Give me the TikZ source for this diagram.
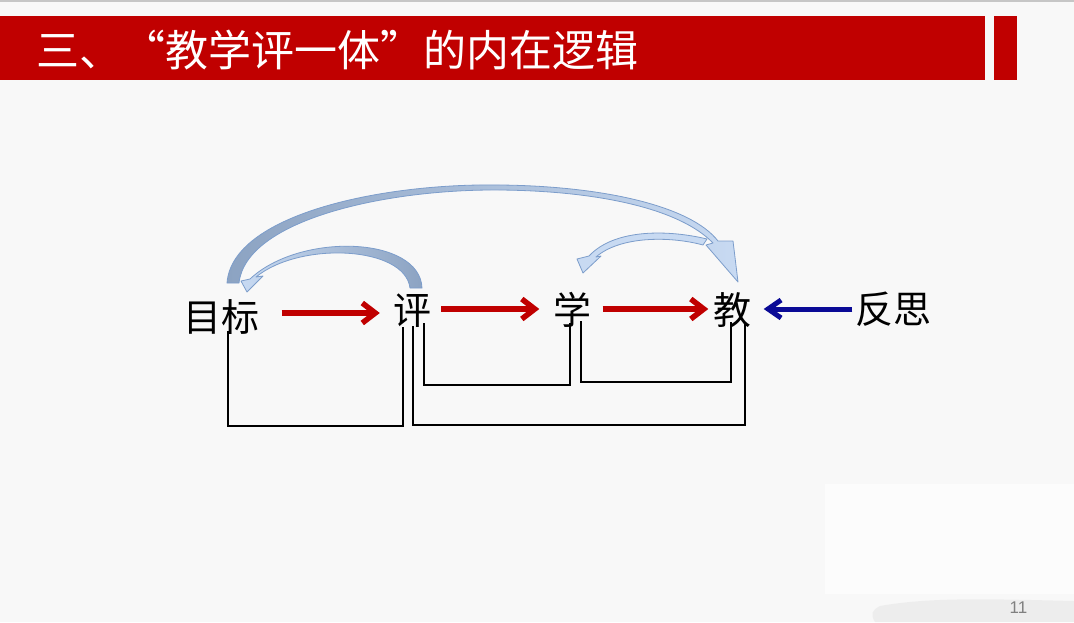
\documentclass[tikz,border=0pt]{standalone}
\usepackage{fontspec}
\newfontfamily\cjk{Noto Sans CJK SC}
\setsansfont{Liberation Sans}
\usetikzlibrary{arrows.meta}
\definecolor{banner}{HTML}{C00000}
\definecolor{bgc}{HTML}{F8F8F8}
\definecolor{redar}{HTML}{C00000}
\definecolor{bluear}{HTML}{0A0A96}
\definecolor{arcline}{HTML}{7C9DCB}
\definecolor{arclight}{HTML}{C8DAF2}
\definecolor{arcdark}{HTML}{8CA3C2}
\begin{document}
\begin{tikzpicture}[x=1pt,y=-1pt,
  word/.style={font=\cjk\fontsize{38}{40}\selectfont, inner sep=0pt, text height=0.86em, text depth=0.14em},
  redarrow/.style={draw=redar, line width=5.5pt, -{Straight Barb[length=13pt,width=20pt]}},
  bluearrow/.style={draw=bluear, line width=5pt, -{Straight Barb[length=13pt,width=18pt]}},
  bracket/.style={draw=black, line width=1.6pt},
  arcbody/.style={draw=arcline, line width=0.8pt, line join=round}]
\useasboundingbox (0,0) rectangle (1074,622);
\fill[bgc] (0,0) rectangle (1074,622);
\draw[gray!45, line width=1.5pt] (0,1) -- (1074,1);
% bottom right decorations
\fill[white!60!bgc] (825,484) rectangle (1074,594);
\fill[gray!16, opacity=0.8] (880,606) .. controls (930,597) and (990,599) .. (1074,601) -- (1074,622) -- (875,622) .. controls (870,614) and (872,610) .. (880,606) -- cycle;
% banner
\fill[banner] (0,16) rectangle (985,80);
\fill[banner] (994,16) rectangle (1017,80);
\node[anchor=west, text=white, font=\cjk\fontsize{43}{46}\selectfont, inner sep=0pt] (title) at (36,50) {三、“教学评一体”的内在逻辑};
% nodes
\node[word] (mubiao) at (221.5,328) {目标};
\node[word] (ping) at (412,321) {评};
\node[word] (xue) at (572.5,321) {学};
\node[word] (jiao) at (732.5,321) {教};
\node[word] (fansi) at (893.5,320) {反思};
% straight arrows
\draw[redarrow, shorten <=22pt, shorten >=13pt] (mubiao.east |- 0,313) -- (ping.west |- 0,313);
\draw[redarrow, shorten <=10pt, shorten >=14pt] (ping.east |- 0,309) -- (xue.west |- 0,309);
\draw[redarrow, shorten <=11pt, shorten >=5pt] (xue.east |- 0,309) -- (jiao.west |- 0,309);
\draw[bluearrow, shorten <=3pt, shorten >=12pt] (fansi.west |- 0,309) -- (jiao.east |- 0,309);
% brackets
\draw[bracket] ([yshift=2pt]mubiao.south -| 228,0) -- (228,426) -- (403,426) -- ([yshift=-1pt]ping.south -| 403,0);
\draw[bracket] ([yshift=0pt]ping.south -| 413,0) -- (413,425) -- (745,425) -- ([yshift=4pt]jiao.south -| 745,0);
\draw[bracket] ([yshift=3pt]ping.south -| 424,0) -- (424,385) -- (570,385) -- ([yshift=3pt]xue.south -| 570,0);
\draw[bracket] ([yshift=5pt]xue.south -| 581,0) -- (581,382) -- (731,382) -- ([yshift=4pt]jiao.south -| 731,0);
% curved arrows
\path[arcbody, left color=arcdark, right color=arclight]
  (227,283) .. controls (232,215) and (380,183) .. (500,185)
  .. controls (600,186) and (690,205) .. (718,241)
  -- (733,241) -- (738,282) -- (706,245) -- (713,243)
  .. controls (680,209) and (600,191) .. (500,190)
  .. controls (385,189) and (246,220) .. (239,283) -- cycle;
\path[arcbody, left color=arclight, right color=arcdark]
  (422,288) .. controls (420,236) and (300,232) .. (250,279)
  -- (241,281) -- (247,292) -- (263,276) -- (256,277)
  .. controls (300,241) and (405,246) .. (410,288) -- cycle;
\path[arcbody, fill=arclight]
  (707,239) .. controls (670,230) and (615,228) .. (589,256)
  -- (577,259) -- (583,273) -- (601,256) -- (596,257)
  .. controls (620,236) and (670,236) .. (703,245) -- cycle;
% page number
\node[font=\sffamily\fontsize{17}{18}\selectfont, text=gray, inner sep=0pt] (pnum) at (1018.5,608) {11};
\end{tikzpicture}
\end{document}
